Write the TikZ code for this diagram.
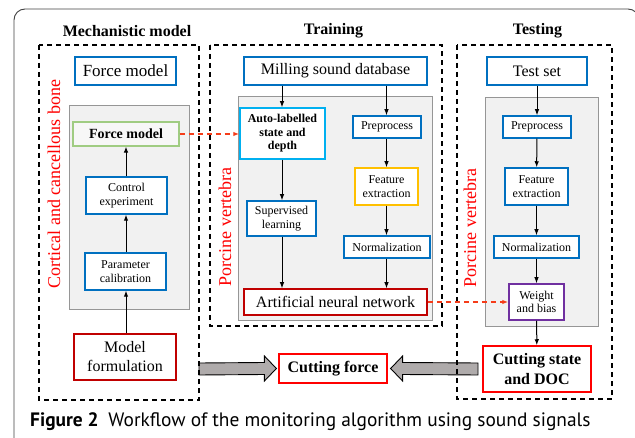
\documentclass[tikz,border=0pt]{standalone}
\usepackage{fontspec}
\setmainfont{Liberation Serif}
\newfontfamily\capfont{PT Sans}
\usetikzlibrary{arrows.meta,calc}
\definecolor{cblue}{RGB}{0,112,192}
\definecolor{clblue}{RGB}{0,176,240}
\definecolor{cgreen}{RGB}{160,204,130}
\definecolor{corange}{RGB}{255,192,0}
\definecolor{cpurple}{RGB}{112,48,160}
\definecolor{cdred}{RGB}{192,0,0}
\definecolor{cred}{RGB}{255,0,0}
\definecolor{cgrayfill}{RGB}{241,241,241}
\definecolor{cgrayline}{RGB}{150,150,150}
\definecolor{carrowfill}{RGB}{175,171,171}
\definecolor{cdash}{RGB}{245,60,25}
\begin{document}
\begin{tikzpicture}[x=1pt,y=-1pt,
  box/.style={draw, line width=1.5pt, fill=white, inner sep=1pt, align=center},
  bluebox/.style={box, draw=cblue},
  f12/.style={font=\fontsize{12}{13.5}\selectfont},
  f12b/.style={font=\fontsize{12}{13.5}\selectfont\bfseries},
  f14b/.style={font=\fontsize{14}{16}\selectfont\bfseries},
  f16/.style={font=\fontsize{16}{19}\selectfont},
  f16b/.style={font=\fontsize{16}{20}\selectfont\bfseries},
  f17/.style={font=\fontsize{17}{19}\selectfont},
  side/.style={text=cred, rotate=90, font=\fontsize{18}{20}\selectfont},
  graypanel/.style={draw=cgrayline, fill=cgrayfill, line width=0.8pt},
  dashbox/.style={draw=black, line width=1.1pt, dash pattern=on 5pt off 4pt},
  arr/.style={-{Latex[length=6pt,width=4.5pt]}, line width=1pt},
  redarr/.style={-{Latex[length=6pt,width=4.5pt]}, line width=1.1pt, draw=cdash, dash pattern=on 5pt off 4pt},
  bigarrow/.style={draw=black, fill=carrowfill, line width=0.9pt}
]
\useasboundingbox (0,0) rectangle (635,438);

% outer frame
\draw[line width=0.9pt, draw=black!75, rounded corners=11pt] (14,445) -- (14,9) -- (639,9) -- (639,445);

% titles
\node[f16b] (t1) at (127,31) {Mechanistic model};
\node[f16b] (t2) at (333.5,31) {Training};
\node[f16b] (t3) at (537.5,31) {Testing};

% gray panels
\path[graypanel] (69,105) rectangle (189,309);
\path[graypanel] (238,96) rectangle (432,320);
\path[graypanel] (485,97) rectangle (598,326);

% block arrows (under dashed boxes)
\node[box, draw=cred, line width=1.2pt, f16b, minimum width=108pt, minimum height=29pt] (cf) at (333,368.5) {Cutting force};
\coordinate (ls) at (199,369);
\coordinate (rs) at (478,369);
\draw[bigarrow] (ls)++(0,-6) -- ($(cf.west)+(-14,-6)$) -- ($(cf.west)+(-14,-12.5)$) -- ($(cf.west)+(-2,0)$) -- ($(cf.west)+(-14,12.5)$) -- ($(cf.west)+(-14,6)$) -- ($(ls)+(0,6)$) -- cycle;
\draw[bigarrow] (rs)++(0,-6) -- ($(cf.east)+(15,-6)$) -- ($(cf.east)+(15,-12.5)$) -- ($(cf.east)+(3,0)$) -- ($(cf.east)+(15,12.5)$) -- ($(cf.east)+(15,6)$) -- ($(rs)+(0,6)$) -- cycle;

% dashed boxes
\draw[dashbox] (39,45) rectangle (199,400);
\draw[dashbox] (210,45) rectangle (442,326);
\draw[dashbox] (457,45) rectangle (612,399);

% side labels
\node[side] (sl1) at (54,184) {Cortical and cancellous bone};
\node[side] (sl2) at (225,227) {Porcine vertebra};
\node[side] (sl3) at (470,228) {Porcine vertebra};

% left column
\node[bluebox, f17, minimum width=101pt, minimum height=28pt] (fm1) at (125.5,71) {Force model};
\node[box, draw=cgreen, line width=1.1pt, fill=cgrayfill!60!white, f14b, minimum width=106pt, minimum height=24pt] (fm2) at (126,134) {Force model};
\node[bluebox, f12, minimum width=81pt, minimum height=37pt] (ce) at (126.5,195.5) {Control\\experiment};
\node[bluebox, f12, minimum width=81pt, minimum height=37pt] (pc) at (125.5,271.5) {Parameter\\calibration};
\node[box, draw=cdred, f16, minimum width=102pt, minimum height=46pt] (mf) at (125,357) {Model\\formulation};
\draw[arr] (mf.north -| 126,0) -- (pc.south -| 126,0);
\draw[arr] (pc.north -| 126,0) -- (ce.south -| 126,0);
\draw[arr] (ce.north -| 126,0) -- (fm2.south -| 126,0);

% middle column
\node[bluebox, f16, minimum width=183pt, minimum height=28pt] (msd) at (335.5,71) {Milling sound database};
\node[box, draw=clblue, f12b, minimum width=85pt, minimum height=51pt] (al) at (282.5,133.5) {Auto-labelled\\state and\\depth};
\node[bluebox, f12, minimum width=68pt, minimum height=22pt] (pp1) at (387,127) {Preprocess};
\node[box, draw=corange, f12, minimum width=63pt, minimum height=37pt] (fe1) at (386.5,186.5) {Feature\\extraction};
\node[bluebox, f12, minimum width=69pt, minimum height=35pt] (sl) at (281.5,218.5) {Supervised\\learning};
\node[bluebox, f12, minimum width=86pt, minimum height=22pt] (no1) at (387,247) {Normalization};
\node[box, draw=cdred, f16, minimum width=183pt, minimum height=26pt] (ann) at (335.5,302) {Artificial neural network};
\draw[arr] (msd.south -| 282,0) -- (al.north -| 282,0);
\draw[arr] (al.south -| 282,0) -- (sl.north -| 282,0);
\draw[arr] (sl.south -| 282,0) -- (ann.north -| 282,0);
\draw[arr] (msd.south -| 386.5,0) -- (pp1.north -| 386.5,0);
\draw[arr] (pp1.south -| 386.5,0) -- (fe1.north -| 386.5,0);
\draw[arr] (fe1.south -| 386.5,0) -- (no1.north -| 386.5,0);
\draw[arr] (no1.south -| 386.5,0) -- (ann.north -| 386.5,0);

% right column
\node[bluebox, f16, minimum width=100pt, minimum height=28pt] (ts) at (537,71) {Test set};
\node[bluebox, f12, minimum width=68pt, minimum height=22pt] (pp2) at (537,127) {Preprocess};
\node[bluebox, f12, minimum width=63pt, minimum height=37pt] (fe2) at (536.5,186.5) {Feature\\extraction};
\node[bluebox, f12, minimum width=85pt, minimum height=22pt] (no2) at (536.5,247) {Normalization};
\node[box, draw=cpurple, f12, minimum width=55pt, minimum height=36pt] (wb) at (536.5,302) {Weight\\and bias};
\node[box, draw=cred, f16b, minimum width=108pt, minimum height=46pt] (csd) at (537,369) {Cutting state\\and DOC};
\draw[arr] (ts) -- (pp2);
\draw[arr] (pp2) -- (fe2);
\draw[arr] (fe2) -- (no2);
\draw[arr] (no2) -- (wb);
\draw[arr] (wb) -- (csd);

% red dashed links
\draw[redarr] (fm2.east) -- (al.west |- fm2.east);
\draw[redarr] (ann.east) -- (wb.west |- ann.east);

% caption
\node[anchor=base west, inner sep=0pt, font=\capfont\fontsize{19.4}{22}\selectfont] (cap) at (30,427) {\textbf{Figure 2}\enspace Workflow of the monitoring algorithm using sound signals};
\end{tikzpicture}
\end{document}
